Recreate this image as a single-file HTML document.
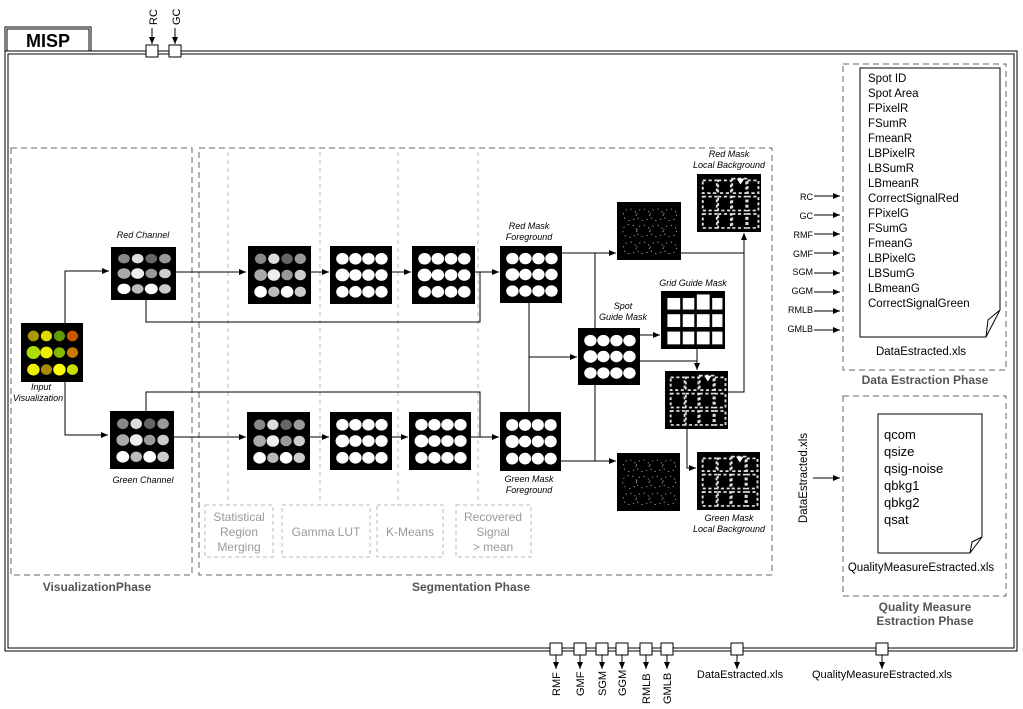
<!DOCTYPE html>
<html><head><meta charset="utf-8"><style>
html,body{margin:0;padding:0;background:#fff}
svg{display:block}
text{font-family:"Liberation Sans",sans-serif}
</style></head><body>
<svg width="1023" height="709" viewBox="0 0 1023 709" xmlns="http://www.w3.org/2000/svg">
<defs>
<marker id="a" markerWidth="8" markerHeight="8" refX="7" refY="4" orient="auto" markerUnits="userSpaceOnUse"><path d="M0,1 L7,4 L0,7 z" fill="#000"/></marker>
<g id="gw"><rect width="100" height="100" fill="#000"/>
<g fill="#fff"><circle cx="20" cy="22" r="10"/><circle cx="41" cy="22" r="10"/><circle cx="62" cy="22" r="10"/><circle cx="83" cy="22" r="10"/>
<circle cx="20" cy="50" r="11"/><circle cx="41" cy="50" r="10"/><circle cx="62" cy="50" r="10"/><circle cx="83" cy="50" r="10"/>
<circle cx="20" cy="79" r="10"/><circle cx="41" cy="79" r="10"/><circle cx="62" cy="79" r="10"/><circle cx="83" cy="79" r="10"/></g></g>
<g id="gg"><rect width="100" height="100" fill="#000"/>
<circle cx="20" cy="22" r="9" fill="#888"/><circle cx="41" cy="22" r="9" fill="#ddd"/><circle cx="62" cy="22" r="9" fill="#666"/><circle cx="83" cy="22" r="9" fill="#999"/>
<circle cx="20" cy="50" r="10" fill="#aaa"/><circle cx="41" cy="50" r="10" fill="#eee"/><circle cx="62" cy="50" r="9" fill="#999"/><circle cx="83" cy="50" r="9" fill="#ccc"/>
<circle cx="20" cy="79" r="10" fill="#fff"/><circle cx="41" cy="79" r="9" fill="#bbb"/><circle cx="62" cy="79" r="10" fill="#fff"/><circle cx="83" cy="79" r="9" fill="#ccc"/></g>
<g id="gc"><rect width="100" height="100" fill="#000"/>
<circle cx="20" cy="22" r="9" fill="#aa9900"/><circle cx="41" cy="22" r="9" fill="#dddd00"/><circle cx="62" cy="22" r="9" fill="#669900"/><circle cx="83" cy="22" r="9" fill="#cc5500"/>
<circle cx="20" cy="50" r="11" fill="#aadd00"/><circle cx="41" cy="50" r="10" fill="#eeee00"/><circle cx="62" cy="50" r="9" fill="#88bb00"/><circle cx="83" cy="50" r="9" fill="#cc7700"/>
<circle cx="20" cy="79" r="10" fill="#eeee00"/><circle cx="41" cy="79" r="9" fill="#aa8800"/><circle cx="62" cy="79" r="10" fill="#ffff00"/><circle cx="83" cy="79" r="9" fill="#ccdd00"/></g>
<g id="gs"><rect width="100" height="100" fill="#000"/>
<g fill="#fff"><rect x="10" y="12" width="20" height="20"/><rect x="34" y="12" width="18" height="20"/><rect x="56" y="6" width="20" height="26"/><rect x="80" y="12" width="16" height="20"/>
<rect x="10" y="40" width="20" height="22"/><rect x="34" y="40" width="18" height="22"/><rect x="56" y="40" width="20" height="22"/><rect x="80" y="40" width="16" height="22"/>
<rect x="10" y="70" width="20" height="22"/><rect x="34" y="70" width="18" height="22"/><rect x="56" y="70" width="20" height="22"/><rect x="80" y="70" width="16" height="22"/></g></g>
<g id="gl"><rect width="100" height="100" fill="#000"/>
<g fill="none" stroke="#ddd" stroke-width="3" stroke-dasharray="5 4">
<rect x="9" y="11" width="22" height="22"/><rect x="33" y="11" width="20" height="22"/><rect x="55" y="8" width="22" height="25"/><rect x="79" y="11" width="17" height="22"/>
<rect x="9" y="39" width="22" height="24"/><rect x="33" y="39" width="20" height="24"/><rect x="55" y="39" width="22" height="24"/><rect x="79" y="39" width="17" height="24"/>
<rect x="9" y="69" width="22" height="24"/><rect x="33" y="69" width="20" height="24"/><rect x="55" y="69" width="22" height="24"/><rect x="79" y="69" width="17" height="24"/></g>
<path d="M62 8 L74 8 L68 18 z" fill="#fff"/></g>
<g id="gn"><rect width="100" height="100" fill="#000"/>
<g fill="none" stroke="#aaa" stroke-width="1.5" stroke-dasharray="2 6">
<circle cx="20" cy="22" r="10"/><circle cx="41" cy="22" r="10"/><circle cx="62" cy="22" r="10"/><circle cx="83" cy="22" r="10"/>
<circle cx="20" cy="50" r="11"/><circle cx="41" cy="50" r="10"/><circle cx="62" cy="50" r="10"/><circle cx="83" cy="50" r="10"/>
<circle cx="20" cy="79" r="10"/><circle cx="41" cy="79" r="10"/><circle cx="62" cy="79" r="10"/><circle cx="83" cy="79" r="10"/></g></g>
</defs>

<!-- outer frame -->
<rect x="5" y="27" width="86" height="24" fill="#fff" stroke="#000" stroke-width="1"/>
<rect x="7" y="29" width="82" height="22" fill="none" stroke="#000" stroke-width="1"/>
<text x="48" y="47" font-size="18" font-weight="bold" text-anchor="middle">MISP</text>
<rect x="5" y="51" width="1012" height="600" fill="none" stroke="#000" stroke-width="1"/>
<rect x="8" y="54" width="1006" height="594" fill="none" stroke="#000" stroke-width="1"/>

<!-- top ports -->
<g stroke="#000" fill="#fff">
<line x1="152" y1="28" x2="152" y2="44" marker-end="url(#a)"/>
<line x1="175" y1="28" x2="175" y2="44" marker-end="url(#a)"/>
<rect x="146" y="45" width="12" height="12"/><rect x="169" y="45" width="12" height="12"/></g>
<text transform="translate(157,25) rotate(-90)" font-size="11">RC</text>
<text transform="translate(180,25) rotate(-90)" font-size="11">GC</text>

<!-- phase boxes -->
<g fill="none" stroke="#666" stroke-dasharray="6 4">
<rect x="11" y="148" width="181" height="427"/>
<rect x="199" y="148" width="573" height="427"/>
<rect x="843" y="64" width="163" height="306"/>
<rect x="843" y="396" width="163" height="200"/></g>
<g stroke="#bbb" stroke-dasharray="4 4">
<line x1="228" y1="152" x2="228" y2="505"/><line x1="320" y1="152" x2="320" y2="505"/>
<line x1="398" y1="152" x2="398" y2="505"/><line x1="478" y1="152" x2="478" y2="505"/></g>
<g fill="none" stroke="#bbb" stroke-dasharray="4 3">
<rect x="205" y="505" width="68" height="52"/><rect x="282" y="505" width="88" height="52"/>
<rect x="377" y="505" width="66" height="52"/><rect x="456" y="505" width="75" height="52"/></g>
<g font-size="12" fill="#999" text-anchor="middle">
<text x="239" y="521">Statistical</text><text x="239" y="536">Region</text><text x="239" y="551">Merging</text>
<text x="326" y="536">Gamma LUT</text><text x="410" y="536">K-Means</text>
<text x="493" y="521">Recovered</text><text x="493" y="536">Signal</text><text x="493" y="551">&gt; mean</text></g>
<g font-size="12" font-weight="bold" fill="#555" text-anchor="middle">
<text x="97" y="591">VisualizationPhase</text><text x="471" y="591">Segmentation Phase</text>
<text x="925" y="384">Data Estraction Phase</text>
<text x="925" y="611">Quality Measure</text><text x="925" y="625">Estraction Phase</text></g>

<!-- connectors -->
<g stroke="#000" fill="none">
<polyline points="65,323 65,271 109,271" marker-end="url(#a)"/>
<polyline points="65,382 65,435 108,435" marker-end="url(#a)"/>
<line x1="176" y1="272" x2="246" y2="272" marker-end="url(#a)"/>
<line x1="311" y1="272" x2="329" y2="272" marker-end="url(#a)"/>
<line x1="392" y1="272" x2="411" y2="272" marker-end="url(#a)"/>
<line x1="475" y1="272" x2="499" y2="272" marker-end="url(#a)"/>
<polyline points="146,300 146,322 480,322 480,272"/>
<polyline points="146,411 146,392 480,392 480,437"/>
<line x1="174" y1="437" x2="246" y2="437" marker-end="url(#a)"/>
<line x1="310" y1="437" x2="329" y2="437" marker-end="url(#a)"/>
<line x1="392" y1="437" x2="408" y2="437" marker-end="url(#a)"/>
<line x1="471" y1="437" x2="499" y2="437" marker-end="url(#a)"/>
<line x1="562" y1="253" x2="616" y2="253" marker-end="url(#a)"/>
<line x1="561" y1="461" x2="616" y2="461" marker-end="url(#a)"/>
<line x1="595" y1="253" x2="595" y2="461"/>
<line x1="529" y1="303" x2="529" y2="412"/>
<line x1="529" y1="357" x2="577" y2="357" marker-end="url(#a)"/>
<line x1="640" y1="335" x2="660" y2="335" marker-end="url(#a)"/>
<polyline points="640,361 697,361"/>
<line x1="697" y1="349" x2="697" y2="370" marker-end="url(#a)"/>
<polyline points="681,253 744,253"/>
<polyline points="728,392 744,392 744,233" marker-end="url(#a)"/>
<polyline points="687,429 687,468 696,468" marker-end="url(#a)"/>
</g>

<!-- images -->
<use href="#gc" transform="translate(21,323) scale(0.62,0.59)"/>
<use href="#gg" transform="translate(111,247) scale(0.65,0.53)"/>
<use href="#gg" transform="translate(110,411) scale(0.64,0.58)"/>
<use href="#gg" transform="translate(248,246) scale(0.63,0.58)"/>
<use href="#gw" transform="translate(330,246) scale(0.62,0.58)"/>
<use href="#gw" transform="translate(412,246) scale(0.63,0.58)"/>
<use href="#gw" transform="translate(500,246) scale(0.62,0.57)"/>
<use href="#gg" transform="translate(247,412) scale(0.63,0.58)"/>
<use href="#gw" transform="translate(330,412) scale(0.62,0.58)"/>
<use href="#gw" transform="translate(409,412) scale(0.62,0.58)"/>
<use href="#gw" transform="translate(500,412) scale(0.61,0.59)"/>
<use href="#gn" transform="translate(617,202) scale(0.64,0.58)"/>
<use href="#gn" transform="translate(617,453) scale(0.63,0.58)"/>
<use href="#gl" transform="translate(697,174) scale(0.64,0.58)"/>
<use href="#gl" transform="translate(665,371) scale(0.63,0.58)"/>
<use href="#gl" transform="translate(697,452) scale(0.63,0.58)"/>
<use href="#gw" transform="translate(578,328) scale(0.62,0.57)"/>
<use href="#gs" transform="translate(661,291) scale(0.64,0.58)"/>

<g font-size="9" font-style="italic" text-anchor="middle">
<text x="41" y="390">Input</text><text x="38" y="401">Visualization</text>
<text x="143" y="238">Red Channel</text><text x="143" y="483">Green Channel</text>
<text x="529" y="229">Red Mask</text><text x="529" y="240">Foreground</text>
<text x="529" y="482">Green Mask</text><text x="529" y="493">Foreground</text>
<text x="623" y="309">Spot</text><text x="623" y="320">Guide Mask</text>
<text x="693" y="286">Grid Guide Mask</text>
<text x="729" y="157">Red Mask</text><text x="729" y="168">Local Background</text>
<text x="729" y="521">Green Mask</text><text x="729" y="532">Local Background</text></g>

<!-- data doc -->
<path d="M860,68 L1000,68 L1000,310 L986,337 L860,337 Z" fill="#fff" stroke="#000"/>
<path d="M986,337 L988,320 L1000,310" fill="none" stroke="#000"/>
<g font-size="11.5">
<text x="868" y="82">Spot ID</text><text x="868" y="97">Spot Area</text><text x="868" y="112">FPixelR</text>
<text x="868" y="127">FSumR</text><text x="868" y="142">FmeanR</text><text x="868" y="157">LBPixelR</text>
<text x="868" y="172">LBSumR</text><text x="868" y="187">LBmeanR</text><text x="868" y="202">CorrectSignalRed</text>
<text x="868" y="217">FPixelG</text><text x="868" y="232">FSumG</text><text x="868" y="247">FmeanG</text>
<text x="868" y="262">LBPixelG</text><text x="868" y="277">LBSumG</text><text x="868" y="292">LBmeanG</text>
<text x="868" y="307">CorrectSignalGreen</text>
<text x="921" y="355" text-anchor="middle">DataEstracted.xls</text></g>
<g font-size="9" text-anchor="end">
<text x="813" y="200">RC</text><text x="813" y="219">GC</text><text x="813" y="238">RMF</text><text x="813" y="257">GMF</text>
<text x="813" y="275">SGM</text><text x="813" y="294">GGM</text><text x="813" y="313">RMLB</text><text x="813" y="332">GMLB</text></g>
<g stroke="#000">
<line x1="814" y1="196" x2="840" y2="196" marker-end="url(#a)"/><line x1="814" y1="215" x2="840" y2="215" marker-end="url(#a)"/>
<line x1="814" y1="234" x2="840" y2="234" marker-end="url(#a)"/><line x1="814" y1="253" x2="840" y2="253" marker-end="url(#a)"/>
<line x1="814" y1="273" x2="840" y2="273" marker-end="url(#a)"/><line x1="814" y1="292" x2="840" y2="292" marker-end="url(#a)"/>
<line x1="814" y1="311" x2="840" y2="311" marker-end="url(#a)"/><line x1="814" y1="330" x2="840" y2="330" marker-end="url(#a)"/>
<line x1="813" y1="478" x2="840" y2="478" marker-end="url(#a)"/></g>

<!-- quality doc -->
<path d="M878,414 L982,414 L982,537 L970,553 L878,553 Z" fill="#fff" stroke="#000"/>
<path d="M970,553 L972,542 L982,537" fill="none" stroke="#000"/>
<g font-size="13">
<text x="884" y="439">qcom</text><text x="884" y="456">qsize</text><text x="884" y="473">qsig-noise</text>
<text x="884" y="490">qbkg1</text><text x="884" y="507">qbkg2</text><text x="884" y="524">qsat</text></g>
<text x="921" y="571" font-size="11.5" text-anchor="middle">QualityMeasureEstracted.xls</text>
<text transform="translate(807,478) rotate(-90)" font-size="11.5" text-anchor="middle">DataEstracted.xls</text>

<!-- bottom ports -->
<g stroke="#000" fill="#fff">
<line x1="556" y1="655" x2="556" y2="669" marker-end="url(#a)"/><line x1="580" y1="655" x2="580" y2="669" marker-end="url(#a)"/>
<line x1="602" y1="655" x2="602" y2="669" marker-end="url(#a)"/><line x1="622" y1="655" x2="622" y2="669" marker-end="url(#a)"/>
<line x1="646" y1="655" x2="646" y2="669" marker-end="url(#a)"/><line x1="667" y1="655" x2="667" y2="669" marker-end="url(#a)"/>
<line x1="737" y1="655" x2="737" y2="669" marker-end="url(#a)"/><line x1="882" y1="655" x2="882" y2="669" marker-end="url(#a)"/>
<rect x="550" y="643" width="12" height="12"/><rect x="574" y="643" width="12" height="12"/>
<rect x="596" y="643" width="12" height="12"/><rect x="616" y="643" width="12" height="12"/>
<rect x="640" y="643" width="12" height="12"/><rect x="661" y="643" width="12" height="12"/>
<rect x="731" y="643" width="12" height="12"/><rect x="876" y="643" width="12" height="12"/></g>
<g font-size="11">
<text transform="translate(560,696) rotate(-90)">RMF</text><text transform="translate(584,696) rotate(-90)">GMF</text>
<text transform="translate(606,696) rotate(-90)">SGM</text><text transform="translate(626,696) rotate(-90)">GGM</text>
<text transform="translate(650,704) rotate(-90)">RMLB</text><text transform="translate(671,704) rotate(-90)">GMLB</text>
<text x="740" y="678" text-anchor="middle">DataEstracted.xls</text>
<text x="882" y="678" text-anchor="middle">QualityMeasureEstracted.xls</text></g>
</svg>
</body></html>
